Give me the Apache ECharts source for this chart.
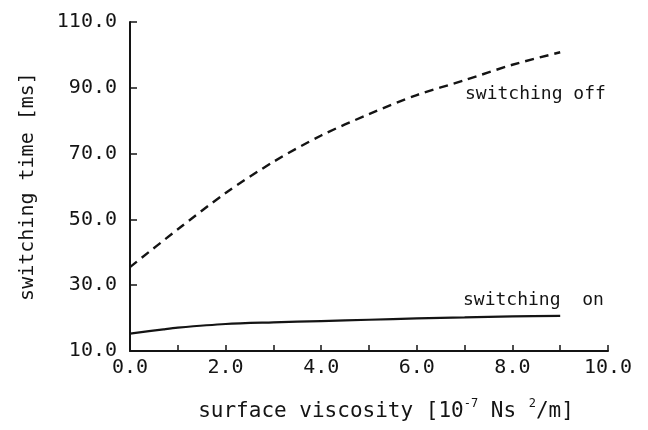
<!DOCTYPE html>
<html>
<head>
<meta charset="utf-8">
<script src="https://cdn.jsdelivr.net/npm/echarts@6/dist/echarts.min.js"></script>
<style>
  html, body { margin: 0; padding: 0; background: #fff; }
  #chart { width: 648px; height: 430px; }
</style>
</head>
<body>
<div id="chart"></div>
<script>
// Surface viscosity (10^-7 Ns^2/m)
const viscOff = [0, 1, 2, 3, 4, 5, 6, 7, 8, 9];
const timeOff = [35.5, 47, 58, 67.5, 75.5, 82, 87.8, 92.3, 97, 100.8];

const viscOn = [0, 0.7, 1, 2, 3, 4, 5, 6, 7, 8, 9];
const timeOn = [15.3, 16.6, 17.1, 18.2, 18.7, 19.1, 19.5, 19.9, 20.2, 20.5, 20.7];

const xTickValues = [0, 1, 2, 3, 4, 5, 6, 7, 8, 9, 10];
const xLabelValues = [0, 2, 4, 6, 8, 10];
const yTickValues = [10, 30, 50, 70, 90, 110];

const FONT = '"DejaVu Sans Mono", monospace';
const INK = '#141414';

const chart = echarts.init(document.getElementById('chart'), null, { renderer: 'canvas' });

const pairs = (xs, ys) => xs.map((x, i) => [x, ys[i]]);

chart.setOption({
  backgroundColor: '#ffffff',
  animation: false,
  grid: { left: 130, right: 40, top: 22, bottom: 79 },
  xAxis: {
    type: 'value',
    min: 0,
    max: 10,
    name: '{a|surface viscosity [10}{s|-7}{a| Ns }{s|2}{a|/m]}',
    nameLocation: 'middle',
    nameGap: 47,
    nameTextStyle: {
      padding: [0, 0, 0, 34],
      rich: {
        a: { fontFamily: FONT, fontSize: 21, color: INK, lineHeight: 24, verticalAlign: 'bottom' },
        s: { fontFamily: FONT, fontSize: 12, color: INK, lineHeight: 24, verticalAlign: 'top' }
      }
    },
    axisLine: { show: true, onZero: false, lineStyle: { color: INK, width: 2 } },
    axisTick: { show: true, inside: true, length: 6, customValues: xTickValues, lineStyle: { color: INK, width: 1.5 } },
    axisLabel: {
      customValues: xLabelValues,
      margin: 7,
      fontFamily: FONT,
      fontSize: 20,
      color: INK,
      formatter: v => v.toFixed(1)
    },
    splitLine: { show: false }
  },
  yAxis: {
    type: 'value',
    min: 10,
    max: 110,
    name: 'switching time [ms]',
    nameLocation: 'middle',
    nameGap: 92,
    nameRotate: 90,
    nameTextStyle: { fontFamily: FONT, fontSize: 20, color: INK },
    axisLine: { show: true, onZero: false, lineStyle: { color: INK, width: 2 } },
    axisTick: { show: true, inside: true, length: 7, customValues: yTickValues, lineStyle: { color: INK, width: 1.5 } },
    axisLabel: {
      customValues: yTickValues,
      margin: 13,
      fontFamily: FONT,
      fontSize: 20,
      color: INK,
      formatter: v => v.toFixed(1)
    },
    splitLine: { show: false }
  },
  series: [
    {
      name: 'switching off',
      type: 'line',
      data: pairs(viscOff, timeOff),
      smooth: 0.3,
      showSymbol: false,
      lineStyle: { color: INK, width: 2.4, type: [9, 6] }
    },
    {
      name: 'switching on',
      type: 'line',
      data: pairs(viscOn, timeOn),
      smooth: 0.3,
      showSymbol: false,
      lineStyle: { color: INK, width: 2.2 }
    }
  ],
  graphic: [
    {
      type: 'text',
      left: 465,
      top: 85,
      style: { text: 'switching off', font: '18px ' + FONT, fill: INK }
    },
    {
      type: 'text',
      left: 463,
      top: 291,
      style: { text: 'switching  on', font: '18px ' + FONT, fill: INK }
    }
  ]
});
</script>
</body>
</html>
